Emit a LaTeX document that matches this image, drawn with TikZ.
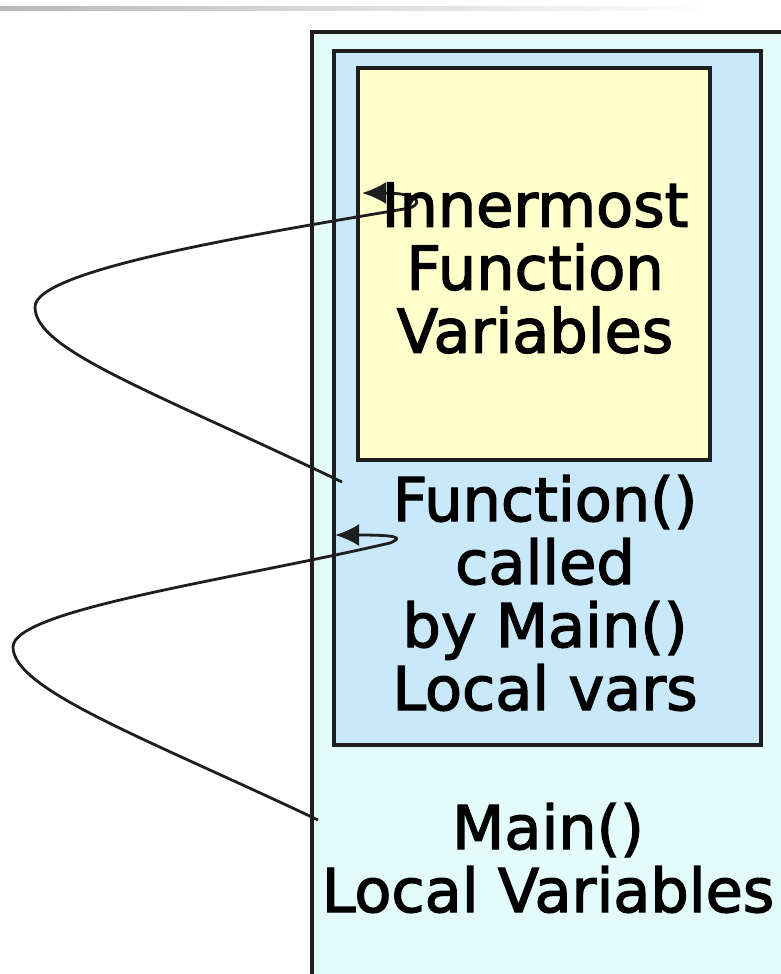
\documentclass[tikz,border=0pt]{standalone}
\usepackage{fontspec}
\setmainfont[FakeBold=2.2]{DejaVu Sans}
\usepackage{tikz}
\usetikzlibrary{arrows.meta,positioning,calc}
\definecolor{Ink}{HTML}{1E1E1E}
\definecolor{Mint}{HTML}{E4FCF9}
\definecolor{Sky}{HTML}{C9E8FA}
\definecolor{Cream}{HTML}{FFFFCC}

\begin{document}
\begin{tikzpicture}[x=1pt, y=-1pt,
  stackbox/.style={draw=Ink, line width=3.8pt, inner sep=0pt},
  stacktext/.style={font=\fontsize{60.5}{63}\selectfont, align=center, inner sep=0pt},
  callarrow/.style={draw=Ink, line width=2.8pt, -{Latex[length=24pt,width=22pt]}}]
  \useasboundingbox (0,0) rectangle (781,974);
  \shade[left color=gray!55, right color=white] (0,7) rectangle (720,11);
  % nested frames
  \node[stackbox, fill=Mint, minimum width=488pt, minimum height=968pt] (outer) at (556,516) {};
  \node[stackbox, fill=Sky, minimum width=427pt, minimum height=694pt] (middle) at (547.5,398) {};
  \node[stackbox, fill=Cream, minimum width=352pt, minimum height=392pt] (inner) at (534,264) {};
  % call links
  \coordinate (s1) at (342,482); \coordinate (t1) at (362,193);
  \coordinate (s2) at (318,820); \coordinate (t2) at (335,535);
  \draw[callarrow] (s1) .. controls (150,390) and (35,350) .. (35,307)
    .. controls (35,270) and (250,235) .. (410,208)
    .. controls (425,202) and (415,193) .. (t1);
  \draw[callarrow] (s2) .. controls (150,740) and (13,690) .. (13,647)
    .. controls (13,610) and (230,580) .. (390,543)
    .. controls (405,537) and (395,535) .. (t2);
  % labels
  \node[stacktext] (innertext) at (535,268) {Innermost\\Function\\Variables};
  \node[stacktext] (functext) at (545,593) {Function()\\called\\by Main()\\Local vars};
  \node[stacktext] (maintext) at (548,858) {Main()\\Local Variables};
\end{tikzpicture}
\end{document}
